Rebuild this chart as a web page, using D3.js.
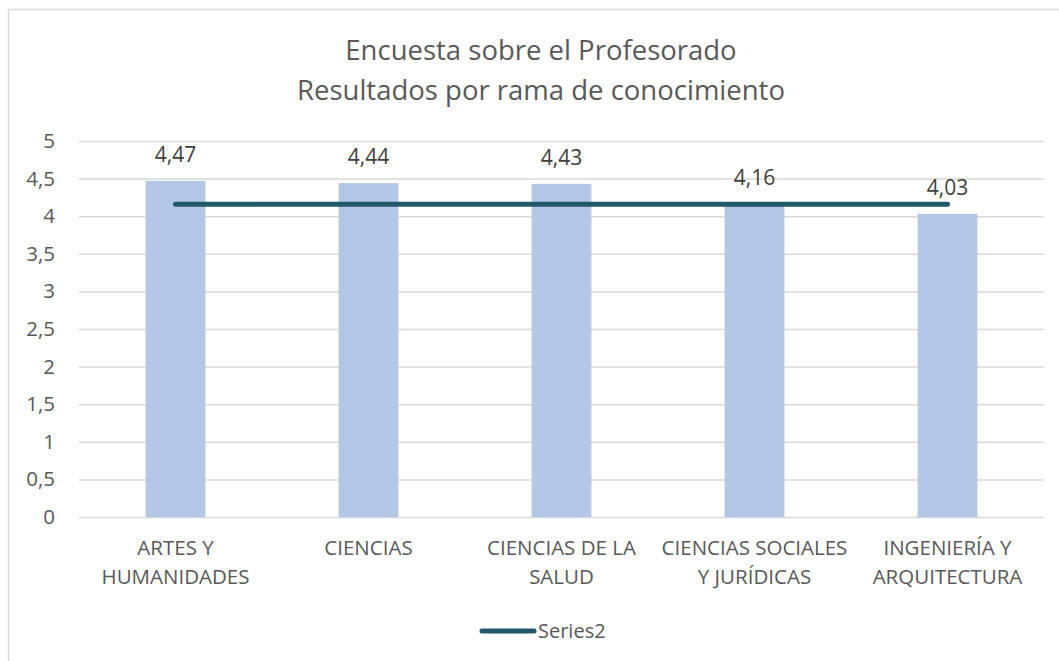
<!DOCTYPE html>
<html>
<head>
<meta charset="utf-8">
<script src="https://cdn.jsdelivr.net/npm/d3@7"></script>
<style>
  html, body { margin: 0; padding: 0; background: #fff; }
  svg { display: block; font-family: "Open Sans", "Noto Sans", sans-serif; }
</style>
</head>
<body>
<div id="chart"></div>
<script>
// Encuesta sobre el Profesorado: bars per branch plus a flat reference line (Series2).
const categories = [
    ["ARTES Y", "HUMANIDADES"],
    ["CIENCIAS"],
    ["CIENCIAS DE LA", "SALUD"],
    ["CIENCIAS SOCIALES", "Y JURÍDICAS"],
    ["INGENIERÍA Y", "ARQUITECTURA"]
];
const barValues = [4.47, 4.44, 4.43, 4.16, 4.03];
const series2 = [4.16, 4.16, 4.16, 4.16, 4.16];
const yTicks = [0, 0.5, 1, 1.5, 2, 2.5, 3, 3.5, 4, 4.5, 5];

const W = 1059, H = 661;
const plot = {left: 79, right: 1044, top: 141, bottom: 517};
const fmt = v => String(v).replace(".", ",");

const svg = d3.select("#chart").append("svg")
    .attr("width", W)
    .attr("height", H);

// chart frame (clipped on the right and bottom like the original)
svg.append("rect")
    .attr("x", 8.5).attr("y", 9.5)
    .attr("width", W + 20).attr("height", H + 20)
    .attr("fill", "#fff")
    .attr("stroke", "#d9d9d9")
    .attr("stroke-width", 1.5);

const title = svg.append("text")
    .attr("text-anchor", "middle")
    .attr("fill", "#595959")
    .style("font-size", "27.5px");
title.append("tspan").attr("x", 541).attr("y", 60).text("Encuesta sobre el Profesorado");
title.append("tspan").attr("x", 541).attr("y", 100).text("Resultados por rama de conocimiento");

const idx = d3.range(categories.length);

const x = d3.scaleBand()
    .domain(idx)
    .range([plot.left, plot.right])
    .paddingInner(0.69)
    .paddingOuter(0.345);

const y = d3.scaleLinear()
    .domain([0, 5])
    .range([plot.bottom, plot.top]);

// gridlines + y labels
const yAxis = svg.append("g")
    .attr("transform", `translate(${plot.left},0)`)
    .call(d3.axisLeft(y)
        .tickValues(yTicks)
        .tickSize(-(plot.right - plot.left))
        .tickPadding(24)
        .tickFormat(fmt))
    .attr("font-family", null)
    .attr("font-size", null);
yAxis.select(".domain").remove();
yAxis.selectAll(".tick line").attr("stroke", "#d9d9d9").attr("stroke-width", 1.5);
yAxis.selectAll(".tick text")
    .attr("fill", "#595959")
    .style("font-size", "20.5px");

// bars
svg.append("g").selectAll("rect")
    .data(barValues)
    .join("rect")
    .attr("x", (d, i) => x(i))
    .attr("width", x.bandwidth())
    .attr("y", d => y(d))
    .attr("height", d => y(0) - y(d))
    .attr("fill", "#b4c7e7");

// value labels
svg.append("g").selectAll("text")
    .data(barValues)
    .join("text")
    .attr("x", (d, i) => x(i) + x.bandwidth() / 2)
    .attr("y", d => y(d) - 19)
    .attr("text-anchor", "middle")
    .attr("fill", "#404040")
    .style("font-size", "21px")
    .text(fmt);

// x category labels
const xl = svg.append("g").selectAll("text")
    .data(categories)
    .join("text")
    .attr("text-anchor", "middle")
    .attr("fill", "#595959")
    .style("font-size", "20.5px");
xl.each(function(lines, i) {
    const t = d3.select(this);
    lines.forEach((ln, j) => {
        t.append("tspan")
            .attr("x", x(i) + x.bandwidth() / 2)
            .attr("y", 555 + j * 29)
            .text(ln);
    });
});

// Series2 line
const line = d3.line()
    .x((d, i) => x(i) + x.bandwidth() / 2)
    .y(d => y(d));
svg.append("path")
    .datum(series2)
    .attr("d", line)
    .attr("fill", "none")
    .attr("stroke", "#215968")
    .attr("stroke-width", 5)
    .attr("stroke-linecap", "round");

// legend
const lg = svg.append("g").attr("transform", "translate(482,631)");
lg.append("line")
    .attr("x1", 0).attr("x2", 52)
    .attr("stroke", "#215968")
    .attr("stroke-width", 5)
    .attr("stroke-linecap", "round");
lg.append("text")
    .attr("x", 56).attr("y", 6.5)
    .attr("fill", "#595959")
    .style("font-size", "20px")
    .text("Series2");
</script>
</body>
</html>
